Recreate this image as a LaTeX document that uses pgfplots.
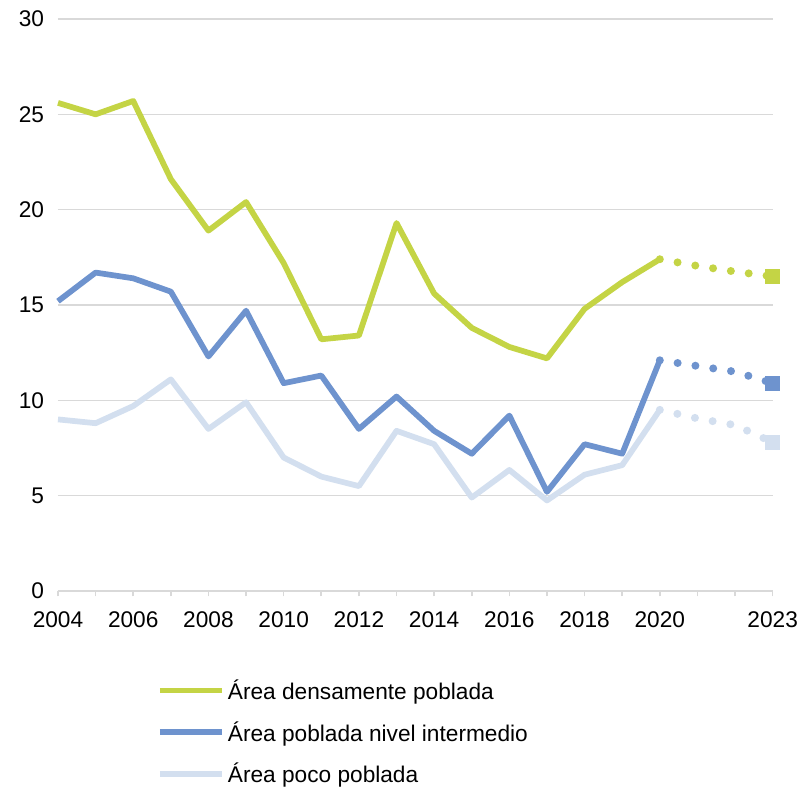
\documentclass[border=0pt]{standalone}
\usepackage{pgfplots}
\pgfplotsset{compat=1.18}
\usepackage{fontspec}
\setmainfont{Liberation Sans}
\definecolor{cgreen}{HTML}{C4D445}
\definecolor{cblue}{HTML}{6E93CE}
\definecolor{clight}{HTML}{D3DFEF}
\definecolor{cgrid}{HTML}{D9D9D9}
\begin{document}
\begin{tikzpicture}
\begin{axis}[
  at={(0pt,0pt)}, anchor=south west,
  scale only axis, width=536pt, height=429pt,
  xmin=2004, xmax=2023, ymin=0, ymax=30,
  xtick={2004,2006,...,2020,2023},
  minor xtick={2005,2007,...,2019,2021,2022},
  ytick={0,5,...,30},
  ymajorgrids, major grid style={cgrid, line width=1.2pt},
  axis lines*=left,
  y axis line style={draw=none},
  x axis line style={cgrid, line width=1.2pt},
  ytick style={draw=none},
  xtick style={cgrid, line width=1.2pt},
  minor tick style={cgrid, line width=1.2pt},
  tick align=outside, major tick length=4pt, minor tick length=4pt,
  tick label style={font=\fontsize{17}{20}\selectfont},
  xticklabel style={yshift=-8pt},
  yticklabel style={xshift=-3pt},
  /pgf/number format/.cd, 1000 sep={}, assume math mode=true,
  /pgfplots/.cd,
  clip=false,
  legend style={at={(0.138,-0.15)}, anchor=north west, draw=none, fill=none,
    font=\fontsize{17}{20}\selectfont, row sep=11pt, inner sep=0pt,
    nodes={inner sep=2pt}},
  legend cell align=left,
  legend image code/.code={\draw[#1,line width=4.3pt] (0pt,0pt) -- (47pt,0pt);},
]
% solid series
\addplot[cgreen, line width=4.3pt, line join=round] coordinates {
(2004,25.6) (2005,25.0) (2006,25.7) (2007,21.6) (2008,18.9) (2009,20.4)
(2010,17.2) (2011,13.2) (2012,13.4) (2013,19.3) (2014,15.6) (2015,13.8)
(2016,12.8) (2017,12.2) (2018,14.8) (2019,16.2) (2020,17.4)};
\addlegendentry{Área densamente poblada}
\addplot[cblue, line width=4.3pt, line join=round] coordinates {
(2004,15.2) (2005,16.7) (2006,16.4) (2007,15.7) (2008,12.3) (2009,14.7)
(2010,10.9) (2011,11.3) (2012,8.5) (2013,10.2) (2014,8.4) (2015,7.2)
(2016,9.2) (2017,5.2) (2018,7.7) (2019,7.2) (2020,12.1)};
\addlegendentry{Área poblada nivel intermedio}
\addplot[clight, line width=4.3pt, line join=round] coordinates {
(2004,9.0) (2005,8.8) (2006,9.7) (2007,11.1) (2008,8.5) (2009,9.9)
(2010,7.0) (2011,6.0) (2012,5.5) (2013,8.4) (2014,7.7) (2015,4.9)
(2016,6.35) (2017,4.75) (2018,6.1) (2019,6.6) (2020,9.5)};
\addlegendentry{Área poco poblada}
% projections (dotted)
\addplot[forget plot, cgreen, line width=6pt, line cap=round, dash pattern=on 0pt off 13.5pt]
coordinates {(2020,17.4) (2021,17.05) (2022,16.75) (2023,16.5)};
\addplot[forget plot, cblue, line width=6pt, line cap=round, dash pattern=on 0pt off 13.5pt]
coordinates {(2020,12.1) (2021,11.8) (2022,11.5) (2023,10.9)};
\addplot[forget plot, clight, line width=6pt, line cap=round, dash pattern=on 0pt off 13.5pt]
coordinates {(2020,9.5) (2021,9.05) (2022,8.7) (2023,7.8)};
% 2023 markers
\addplot[forget plot, cgreen, only marks, mark=square*, mark size=5.25pt, mark options={solid, draw=cgreen, fill=cgreen}]
coordinates {(2023,16.5)};
\addplot[forget plot, cblue, only marks, mark=square*, mark size=5.25pt, mark options={solid, draw=cblue, fill=cblue}]
coordinates {(2023,10.9)};
\addplot[forget plot, clight, only marks, mark=square*, mark size=5.25pt, mark options={solid, draw=clight, fill=clight}]
coordinates {(2023,7.8)};
\end{axis}
\pgfresetboundingbox
\path (-43.5pt,443.25pt) rectangle (558.75pt,-147.75pt);
\end{tikzpicture}
\end{document}
